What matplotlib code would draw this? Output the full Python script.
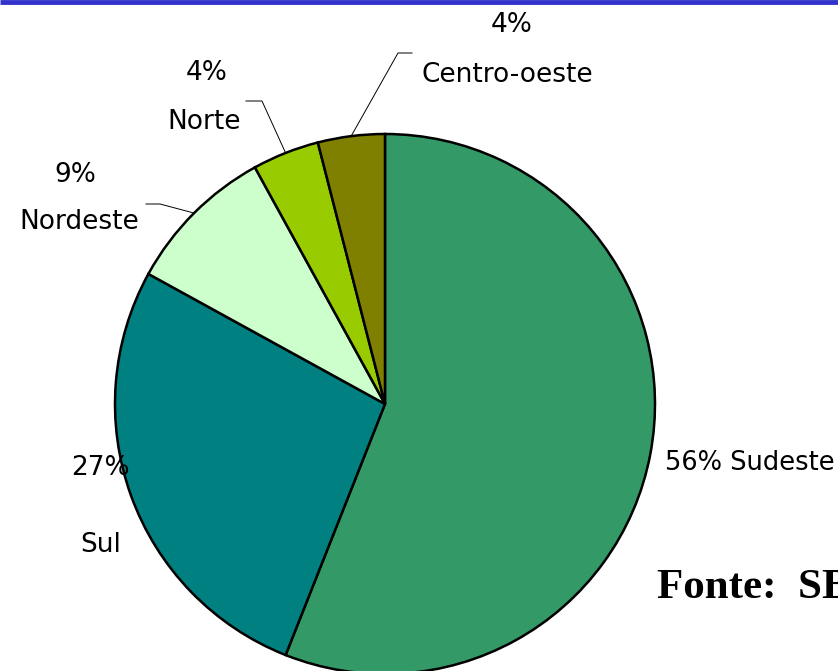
import numpy as np
import matplotlib
matplotlib.use("Agg")
import matplotlib.pyplot as plt

regions = ["Sudeste", "Sul", "Nordeste", "Norte", "Centro-oeste"]
shares = [56, 27, 9, 4, 4]
colors = ["#339966", "#008080", "#CCFFCC", "#99CC00", "#808000"]

W, H = 838, 671
fig = plt.figure(figsize=(W / 100, H / 100), dpi=100)
ax = fig.add_axes([0, 0, 1, 1])
ax.set_xlim(0, W)
ax.set_ylim(0, H)
ax.set_aspect("equal")
ax.axis("off")

def Y(py):
    return H - py

cx, cy, R = 385, Y(404), 270
wedges, _ = ax.pie(shares, colors=colors, startangle=90, counterclock=False,
                   center=(cx, cy), radius=R, frame=True,
                   wedgeprops=dict(edgecolor="black", linewidth=1.8))
ax.set_xlim(0, W)
ax.set_ylim(0, H)
ax.axis("off")

# top blue rule
ax.plot([0, W], [Y(2), Y(2)], color="#3333CC", lw=3.5, solid_capstyle="butt", clip_on=False)

fs = 19
font = "DejaVu Sans"

def edge_point(w):
    mid = np.deg2rad((w.theta1 + w.theta2) / 2)
    return cx + R * np.cos(mid), cy + R * np.sin(mid)

# Sudeste
ax.text(665, Y(463), f"{shares[0]}% {regions[0]}", fontsize=18.5, family=font, va="center", ha="left")
# Sul
ax.text(100, Y(468), f"{shares[1]}%", fontsize=fs, family=font, va="center", ha="center")
ax.text(101, Y(545), regions[1], fontsize=fs, family=font, va="center", ha="center")
# Nordeste
ax.text(75, Y(175), f"{shares[2]}%", fontsize=fs, family=font, va="center", ha="center")
ax.text(79, Y(222), regions[2], fontsize=fs, family=font, va="center", ha="center")
ex, ey = edge_point(wedges[2])
ax.plot([146, 160, ex], [Y(204), Y(204), ey], color="black", lw=0.7)
# Norte
ax.text(207, Y(73), f"{shares[3]}%", fontsize=fs, family=font, va="center", ha="center")
ax.text(204, Y(122), regions[3], fontsize=fs, family=font, va="center", ha="center")
ex, ey = edge_point(wedges[3])
ax.plot([246, 262, ex], [Y(101), Y(101), ey], color="black", lw=0.7)
# Centro-oeste
ax.text(512, Y(25), f"{shares[4]}%", fontsize=fs, family=font, va="center", ha="center")
ax.text(507, Y(75), regions[4], fontsize=fs, family=font, va="center", ha="center")
ex, ey = edge_point(wedges[4])
ax.plot([412, 398, ex], [Y(53), Y(53), ey], color="black", lw=0.7)

ax.text(657, Y(588), "Fonte:  SB", fontsize=31, family="Liberation Serif",
        fontweight="bold", va="center", ha="left")

fig.savefig("out.png", dpi=100)
